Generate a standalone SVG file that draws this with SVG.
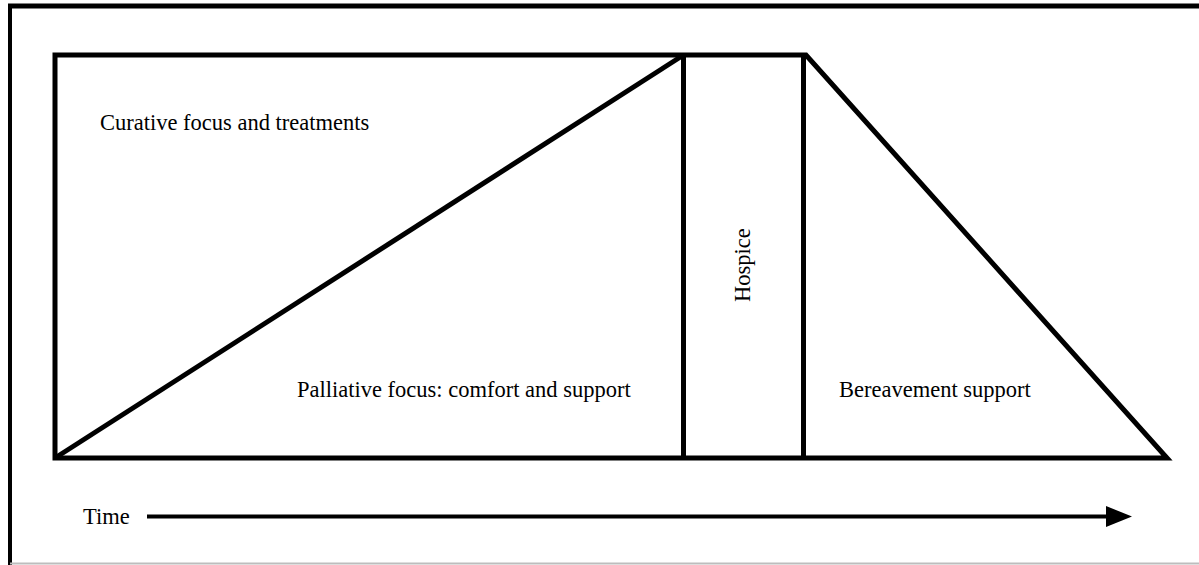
<svg xmlns="http://www.w3.org/2000/svg" width="1199" height="565" viewBox="0 0 1199 565">
  <style>
    .ln { fill: none; stroke: #000; stroke-width: 5; stroke-linejoin: miter; }
    .lbl { font-family: "Liberation Serif", "Times New Roman", serif; font-size: 22.5px; fill: #000; }
  </style>
  <rect width="1199" height="565" fill="#fff"/>
  <g id="frame">
    <line x1="10" y1="4" x2="10" y2="565" stroke="#000" stroke-width="4"/>
    <line x1="8" y1="6" x2="1199" y2="6" stroke="#000" stroke-width="5"/>
    <line x1="10" y1="563.5" x2="1199" y2="563.5" stroke="#bdbdbd" stroke-width="2"/>
  </g>
  <g id="outline">
    <polygon class="ln" points="55,55 806,55 1167,458 55,458"/>
  </g>
  <g id="curative">
    <text class="lbl" x="100" y="130">Curative focus and treatments</text>
  </g>
  <g id="palliative">
    <line class="ln" x1="55" y1="458" x2="683.5" y2="55"/>
    <text class="lbl" x="297" y="397">Palliative focus: comfort and support</text>
  </g>
  <g id="hospice">
    <line class="ln" x1="683.5" y1="55" x2="683.5" y2="458"/>
    <line class="ln" x1="803.5" y1="55" x2="803.5" y2="458"/>
    <text class="lbl" transform="translate(750,302) rotate(-90)">Hospice</text>
  </g>
  <g id="bereavement">
    <text class="lbl" x="839" y="397">Bereavement support</text>
  </g>
  <g id="connectors">
    <line x1="147" y1="516.5" x2="1108" y2="516.5" stroke="#000" stroke-width="4"/>
    <polygon points="1106,506 1132,516.5 1106,527" fill="#000"/>
    <text class="lbl" x="83" y="524">Time</text>
  </g>
</svg>
